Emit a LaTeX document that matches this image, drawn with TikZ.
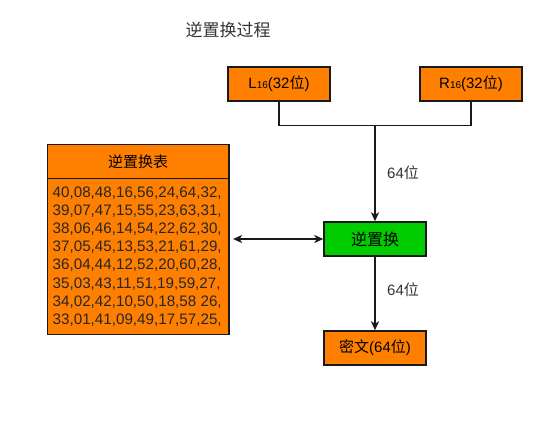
\documentclass[tikz,border=0pt]{standalone}
\usepackage{fontspec}
\setmainfont{Liberation Sans}
\newfontfamily\cjk{Noto Sans CJK SC}
\usetikzlibrary{arrows.meta,positioning}
\definecolor{boxorange}{HTML}{FF8000}
\definecolor{boxgreen}{HTML}{00CC00}
\definecolor{txtgray}{HTML}{333333}
\tikzset{
  box/.style={draw=black!90, line width=1.4pt, fill=boxorange, minimum width=102pt, minimum height=34pt, inner sep=0pt, font=\fontsize{15}{18}\selectfont},
  conn/.style={line width=1.4pt, draw=black!90},
  arr/.style={conn, -{Stealth[length=9pt,width=8pt,inset=2.5pt]}},
  lbl/.style={font=\fontsize{15}{18}\selectfont, text=txtgray, inner sep=0pt}
}
\begin{document}
\begin{tikzpicture}[x=1pt,y=-1pt]
\useasboundingbox (0,0) rectangle (559,429);
\node[font=\cjk\fontsize{17}{20}\selectfont, text=txtgray, anchor=center] (title) at (228,30) {逆置换过程};
\node[box] (L) at (279,84) {L{\fontsize{10}{12}\selectfont 16}(32{\cjk 位})};
\node[box] (R) at (471,84) {R{\fontsize{10}{12}\selectfont 16}(32{\cjk 位})};
\node[box, fill=boxgreen, font=\cjk\fontsize{16}{18}\selectfont] (P) at (375,239) {逆置换};
\node[box] (C) at (375,348) {{\cjk 密文}(64{\cjk 位})};
\coordinate (J) at (375,125.5);
\draw[conn] (L.south) |- (J) -| (R.south);
\draw[arr] (J) -- (P.north);
\draw[arr] (P.south) -- (C.north);
\node[lbl] (l1) at (403,173) {64{\cjk 位}};
\node[lbl] (l2) at (403,290) {64{\cjk 位}};
% table
\node[draw=black!90, line width=1.4pt, fill=boxorange, minimum width=181.5pt, minimum height=33.5pt, inner sep=0pt, anchor=north west, font=\cjk\fontsize{15}{18}\selectfont] (TH) at (46.7,144) {逆置换表};
\node[draw=black!90, line width=1.4pt, fill=boxorange, minimum width=181.5pt, minimum height=156.5pt, inner sep=0pt, anchor=north west] (TB) at (46.7,177.5) {};
\node[anchor=north west, align=left, inner sep=0pt, font=\fontsize{15.2}{18.15}\selectfont, text=black!85] (TT) at (52.5,186.5) {40,08,48,16,56,24,64,32,\\39,07,47,15,55,23,63,31,\\38,06,46,14,54,22,62,30,\\37,05,45,13,53,21,61,29,\\36,04,44,12,52,20,60,28,\\35,03,43,11,51,19,59,27,\\34,02,42,10,50,18,58 26,\\33,01,41,09,49,17,57,25,};
\draw[conn, {Stealth[length=9pt,width=8pt,inset=2.5pt]}-{Stealth[length=9pt,width=8pt,inset=2.5pt]}] (TB.east |- P) ++(3.5,0) coordinate (TA) -- (P.west);
\end{tikzpicture}
\end{document}
